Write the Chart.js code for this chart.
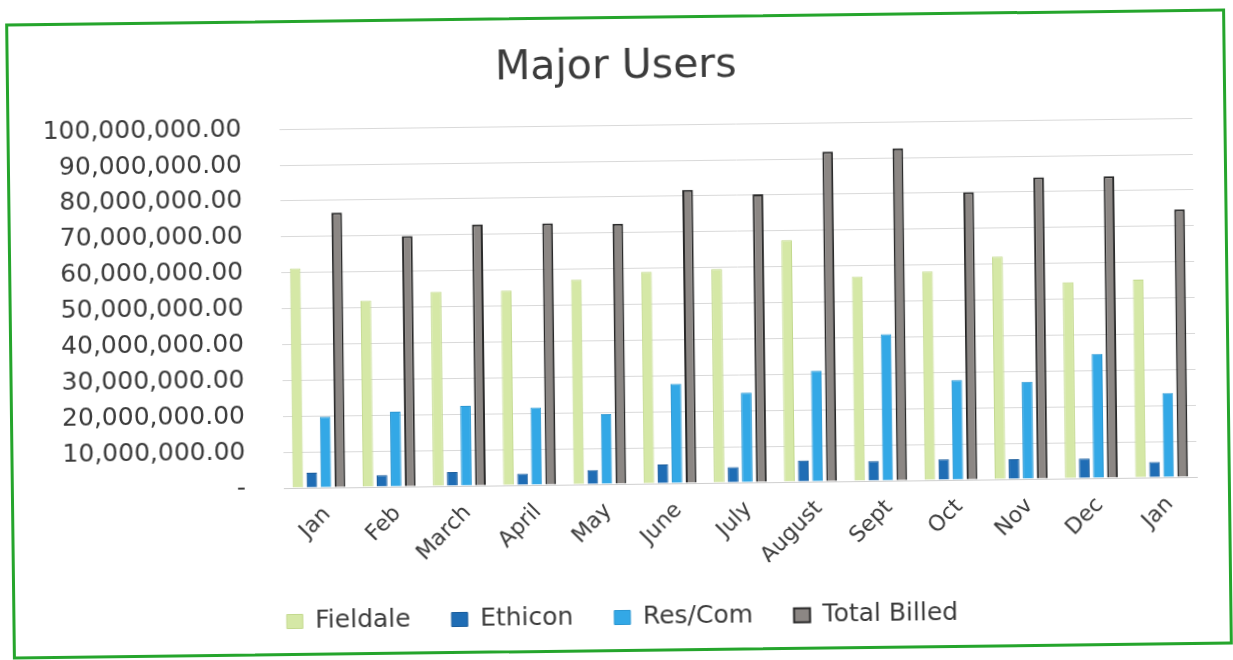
<!DOCTYPE html>
<html>
<head>
<meta charset="utf-8">
<title>Major Users</title>
<script src="https://cdn.jsdelivr.net/npm/chart.js@4.4.1/dist/chart.umd.min.js"></script>
<style>
  html, body { margin: 0; padding: 0; background: #fff; }
  body { width: 1233px; height: 660px; overflow: hidden; position: relative; }
  #frame {
    position: absolute;
    left: 9px; top: 16px;
    width: 1214px; height: 630px;
    border: 3px solid #25a52c;
    transform: rotate(-0.7deg);
    background: #fff;
  }
  #frame canvas { display: block; }
</style>
</head>
<body>
<div id="frame"><canvas id="usersChart" width="1214" height="630"></canvas></div>
<script>
// Monthly billing by major user
const months = ['Jan', 'Feb', 'March', 'April', 'May', 'June', 'July', 'August', 'Sept', 'Oct', 'Nov', 'Dec', 'Jan'];
const fieldale = [61200000, 52000000, 54200000, 54300000, 57100000, 59000000, 59600000, 67400000, 57000000, 58200000, 62100000, 54700000, 55200000];
const ethicon = [4200000, 3300000, 3900000, 3200000, 4000000, 5300000, 4300000, 5900000, 5500000, 5800000, 5600000, 5500000, 4300000];
const resCom = [19700000, 20900000, 22300000, 21600000, 19500000, 27700000, 25000000, 30900000, 40800000, 27800000, 27100000, 34600000, 23500000];
const totalBilled = [76600000, 69800000, 72800000, 72900000, 72500000, 81700000, 80300000, 91900000, 92600000, 80100000, 84000000, 84100000, 74600000];
const yTicks = [0, 10000000, 20000000, 30000000, 40000000, 50000000, 60000000, 70000000, 80000000, 90000000, 100000000];

const textColor = '#3b3b3b';
const font = 'DejaVu Sans';

const ctx = document.getElementById('usersChart').getContext('2d');

const usersChart = new Chart(ctx, {
  type: 'bar',
  data: {
    labels: months,
    datasets: [
      { label: 'Fieldale', data: fieldale, backgroundColor: '#d5e8a6', borderColor: '#c3d98e', borderWidth: 1 },
      { label: 'Ethicon', data: ethicon, backgroundColor: '#1f6db5', borderColor: '#1a5d9c', borderWidth: 1 },
      { label: 'Res/Com', data: resCom, backgroundColor: '#33a8e6', borderColor: '#2b97d2', borderWidth: 1 },
      { label: 'Total Billed', data: totalBilled, backgroundColor: '#8c8784', borderColor: '#2a2a2a', borderWidth: 2 }
    ]
  },
  options: {
    responsive: false,
    animation: false,
    categoryPercentage: 0.8,
    barPercentage: 0.76,
    // equal side padding keeps the title and legend centred on the frame
    layout: { padding: { left: 31, right: 31, top: 0, bottom: 9 } },
    plugins: {
      title: {
        display: true,
        text: 'Major Users',
        color: textColor,
        font: { family: font, size: 41, weight: 'normal' },
        padding: { top: 24, bottom: 33 }
      },
      legend: {
        position: 'bottom',
        labels: {
          color: textColor,
          font: { family: font, size: 25 },
          boxWidth: 16,
          boxHeight: 14,
          padding: 41
        }
      },
      tooltip: { enabled: false }
    },
    scales: {
      x: {
        grid: { display: false },
        border: { display: true, color: '#cfcfcf' },
        ticks: {
          color: textColor,
          font: { family: font, size: 22 },
          minRotation: 45,
          maxRotation: 45,
          labelOffset: 8,
          padding: 6
        },
        afterFit: scale => { scale.height = 80; }
      },
      y: {
        min: 0,
        max: 100000000,
        afterBuildTicks: scale => { scale.ticks = yTicks.map(v => ({ value: v })); },
        grid: { color: '#d9d9d9', drawTicks: false },
        border: { display: false },
        ticks: {
          color: textColor,
          font: { family: font, size: 25 },
          padding: 38,
          callback: v => v === 0 ? '-' : v.toLocaleString('en-US', { minimumFractionDigits: 2, maximumFractionDigits: 2 })
        },
        afterFit: scale => { scale.width = 239; }
      }
    }
  }
});
</script>
</body>
</html>
